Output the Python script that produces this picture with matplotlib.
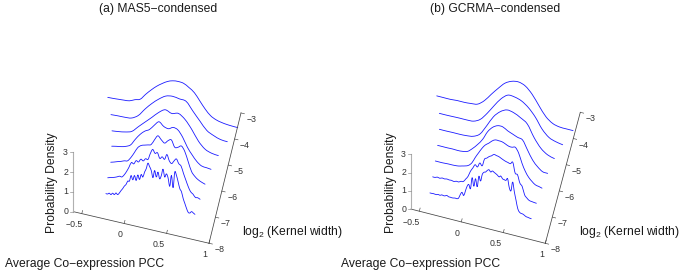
import numpy as np
import matplotlib
matplotlib.use("Agg")
import matplotlib.pyplot as plt
from matplotlib.path import Path
from matplotlib.patches import PathPatch

plt.rcParams['font.family'] = ['Liberation Sans', 'DejaVu Sans']
plt.rcParams['mathtext.fontset'] = 'custom'
plt.rcParams['mathtext.rm'] = 'Liberation Sans'
plt.rcParams['mathtext.default'] = 'regular'

# ---- data: kernel width level, x extent, and density on a uniform grid ----
a_kernel = [-3.56, -4.16, -4.74, -5.30, -5.89, -6.48, -7.07]
a_xstart = [-0.529, -0.446, -0.39, -0.351, -0.318, -0.309, -0.286]
a_xend = [1.004, 0.926, 0.864, 0.82, 0.794, 0.78, 0.764]
a_d1 = [0, .01, .03, .05, .08, .2, .29, .6, .88, 1.13, 1.33, 1.5, 1.6, 1.63, 1.6, 1.45, 1.25, .9, .55, .28, .14, .07, .03, .01, 0]
a_d2 = [0, .02, .03, .07, .28, .69, 1.05, 1.35, 1.58, 1.65, 1.6, 1.55, 1.13, .72, .33, .15, .03, 0]
a_d3 = [0, .04, .1, .21, .53, .84, 1.15, 1.47, 1.69, 1.58, 1.66, 1.43, 1.01, .5, .17, .04, 0]
a_d4 = [0, .05, .09, .16, .29, .63, .93, 1.15, 1.29, 1.56, 1.79, 1.61, 1.55, 1.67, 1.6, 1.29, .84, .51, .23, .06, .03, 0]
a_d5 = [0, .05, .11, .16, .23, .27, .48, .76, 1.05, 1.2, 1.26, 1.31, 1.37, 1.65, 1.89, 1.73, 1.6, 1.76, 1.84, 1.51, 1.55, 1.65, 1.41, .94, .48, .27, .14, .06, 0]
a_d6 = [0, .04, .07, .11, .16, .22, .21, .35, .55, .79, 1.05, 1.01, 1.2, 1.16, 1.33, 1.27, 1.41, 1.4, 1.73, 1.96, 1.79, 1.85, 1.59, 1.7, 1.6, 1.87, 1.58, 1.47, 1.63, 1.76, 1.55, 1.45, 1.11, .8, .5, .27, .18, .04, .05, 0]
a_d7 = [0, 0, .06, .01, .1, .05, .15, .09, .19, .33, .45, .6, .7, .89, .91, 1.21, 1.01, 1.25, 1.02, 1.32, 1.11, 1.38, 1.27, 1.54, 1.73, 2.03, 1.88, 1.7, 1.36, 1.74, 1.43, 1.7, 1.38, 1.57, 1.91, 1.53, 1.71, 1.53, 1.12, 1.69, 1.09, 1.9, 1.75, 1.44, 1.12, .98, .66, .43, .2, .02, .01, .1, .05, 0]

b_kernel = [-3.72, -4.32, -4.89, -5.48, -6.06, -6.65, -7.25]
b_xstart = [-0.649, -0.568, -0.52, -0.492, -0.471, -0.453, -0.436]
b_xend = [0.974, 0.90, 0.849, 0.818, 0.799, 0.781, 0.77]
b_d1 = [0, 0, 0, .03, .03, .06, .12, .41, .85, 1.27, 1.65, 1.85, 1.91, 1.78, 1.42, .89, .39, .11, .01, 0, 0]
b_d2 = [0, 0, .01, .02, .02, .05, .25, .68, 1.19, 1.66, 1.96, 1.95, 1.83, 1.56, 1.14, .57, .21, .07, 0]
b_d3 = [0, 0, .01, .01, .03, .09, .31, .86, 1.45, 1.82, 2.01, 1.95, 1.77, 1.52, .87, .38, .11, 0]
b_d4 = [0, 0, 0, .01, 0, .02, .09, .32, .61, .96, 1.45, 1.76, 1.92, 1.93, 1.78, 1.67, 1.56, 1.48, .99, .52, .22, .02, 0]
b_d5 = [0, 0, 0, .01, .02, .02, .03, .05, .1, .15, .23, .42, .76, 1.06, 1.35, 1.58, 1.72, 1.89, 2.0, 2.0, 1.99, 1.92, 1.84, 1.83, 1.87, 1.6, 1.09, .69, .41, .23, .09, .05, 0]
b_d6 = [0, 0, .05, .02, .07, .05, .08, .06, .07, .04, .09, .08, .15, .17, .34, .52, .83, 1.04, 1.26, 1.17, 1.42, 1.3, 1.7, 1.79, 1.91, 1.98, 2.09, 2.06, 2.04, 1.98, 1.92, 1.87, 1.84, 1.81, 1.92, 1.36, 1.3, .88, .72, .3, .15, .05, .03, .01, 0]
b_d7 = [0, 0, .01, 0, 0, .03, .01, .06, .04, .05, .1, .05, .05, .04, .05, .07, .06, .12, .34, .48, .33, .6, .88, 1.01, .8, 1.43, .98, 1.42, 1.0, 1.6, 1.36, 1.75, 1.89, 1.93, 2.04, 2.1, 2.0, 2.08, 2.03, 1.98, 1.92, 1.85, 1.92, 1.79, 1.77, 1.75, 1.87, 1.4, 1.25, 1.76, 1.24, .8, .37, .2, .15, .14, .09, .04, .03, .01, 0]

x_ticks = [-0.5, 0, 0.5, 1]
x_ticklabels = ['\u22120.5', '0', '0.5', '1']
k_ticks = [-3, -4, -5, -6, -7, -8]
z_ticks = [0, 1, 2, 3]

fig = plt.figure(figsize=(6.84, 2.75), dpi=100)
ax = fig.add_axes([0, 0, 1, 1])
ax.set_xlim(0, 684)
ax.set_ylim(275, 0)
ax.axis('off')

BLUE = '#1a1aff'
AXC = '#444444'


def smooth_path(px, py):
    """Bezier path passing through every data point."""
    pts = np.column_stack([px, py])
    tan = np.gradient(pts, axis=0) / 3.0
    verts = [pts[0]]
    codes = [Path.MOVETO]
    for i in range(len(pts) - 1):
        verts += [pts[i] + tan[i], pts[i + 1] - tan[i + 1], pts[i + 1]]
        codes += [Path.CURVE4] * 3
    return Path(np.array(verts), codes)


def panel(curves, kernel, xs, xe, o, vx, vk, zs, title, title_x, xl_x, log_x, py_x, zl_x):
    def P(x, k, z=0.0):
        x = np.asarray(x, float)
        z = np.asarray(z, float)
        return (o[0] + vx[0] * x + vk[0] * (k + 8),
                o[1] + vx[1] * x + vk[1] * (k + 8) - zs * z)

    for d, k, s, e in zip(curves, kernel, xs, xe):
        px, py = P(np.linspace(s, e, len(d)), k, d)
        ax.add_patch(PathPatch(smooth_path(px, py), fc='none', ec=BLUE, lw=0.6, capstyle='round'))

    # axes frame
    ax.plot(*zip(P(-0.6, -8), P(1, -8)), color=AXC, lw=0.55)
    ax.plot(*zip(P(1, -8), P(1, -3)), color=AXC, lw=0.55)
    ax.plot(*zip(P(-0.6, -8), P(-0.6, -8, 3)), color='#b0b0b0', lw=0.8)

    for t, lab in zip(x_ticks, x_ticklabels):
        a = P(t, -8)
        b = P(t, -7.88)
        ax.plot([a[0], b[0]], [a[1], b[1]], color=AXC, lw=0.45)
        off = -3.8 if t in (0, 1) else -7.8
        ax.text(a[0] + off, a[1] + 11.2, lab, fontsize=6.3, ha='center', va='center', color='#333333')
    for k in k_ticks:
        a = P(1, k)
        b = P(1.04, k)
        ax.plot([a[0], b[0]], [a[1], b[1]], color=AXC, lw=0.45)
        ax.text(a[0] + 10.5, a[1] + 6.6, '\u2212%d' % abs(k), fontsize=6.3, ha='center', va='center', color='#333333')
    for z in z_ticks:
        a = P(-0.6, -8, z)
        ax.plot([a[0] - 3, a[0]], [a[1], a[1]], color='#888888', lw=0.45)
        ax.text(zl_x, a[1], str(z), fontsize=6.3, ha='right', va='center', color='#333333')

    ax.text(title_x, 9, title, fontsize=8.7, ha='center', va='center', color='#1a1a1a')
    ax.text(xl_x, 264, 'Average Co\u2212expression PCC', fontsize=8.7, ha='left', va='center', color='#1a1a1a')
    ax.text(log_x, 232, 'log$_2$ (Kernel width)', fontsize=8.7, ha='left', va='center', color='#1a1a1a')
    ax.text(py_x, 183, 'Probability Density', fontsize=8.7, rotation=90, ha='center', va='center', color='#1a1a1a')


panel([a_d1, a_d2, a_d3, a_d4, a_d5, a_d6, a_d7], a_kernel, a_xstart, a_xend,
      (124.2, 223.5), (84.8, 19.75), (6.4, -26.06), 19.8,
      '(a) MAS5\u2212condensed', 158, 5, 242, 52, 68)
panel([b_d1, b_d2, b_d3, b_d4, b_d5, b_d6, b_d7], b_kernel, b_xstart, b_xend,
      (461.3, 221.9), (84.0, 21.4), (7.0, -26.2), 18.2,
      '(b) GCRMA\u2212condensed', 495, 341, 579, 391, 406)

fig.savefig('out.png', dpi=100)
